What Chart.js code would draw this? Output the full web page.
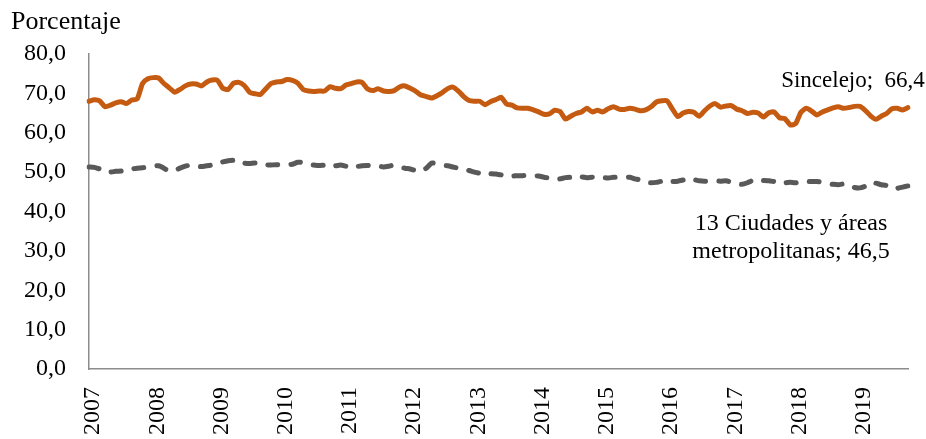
<!DOCTYPE html>
<html>
<head>
<meta charset="utf-8">
<script src="https://cdn.jsdelivr.net/npm/chart.js@4/dist/chart.umd.min.js"></script>
<style>
	html, body { margin: 0; padding: 0; background: #ffffff; }
	#wrap { width: 926px; height: 439px; position: relative; }
</style>
</head>
<body>
<div id="wrap"><canvas id="myChart" width="926" height="439"></canvas></div>
<script>

const years = ['2007', '2008', '2009', '2010', '2011', '2012', '2013', '2014', '2015', '2016', '2017', '2018', '2019'];
const months_per_year = 12;

const y_ticks = { min: 0, max: 80, step: 10 };

const series_names = ['Sincelejo', '13 Ciudades y áreas metropolitanas'];

// one value per month, ene 2007 - oct 2019
const sincelejo = [
	68.0, 68.4, 68.1, 66.6, 67.0, 67.6, 67.9, 67.4, 68.3, 68.6, 72.5, 73.7,
	74.0, 73.9, 72.5, 71.4, 70.3, 71.0, 71.9, 72.4, 72.4, 71.9, 72.9, 73.4,
	73.3, 71.3, 71.0, 72.6, 72.8, 72.0, 70.3, 69.9, 69.7, 71.1, 72.5, 72.9,
	73.0, 73.5, 73.3, 72.6, 71.0, 70.6, 70.5, 70.6, 70.6, 71.7, 71.3, 71.2,
	72.1, 72.5, 72.9, 72.8, 71.2, 70.7, 71.2, 70.6, 70.5, 70.7, 71.6, 71.9,
	71.3, 70.6, 69.6, 69.2, 68.8, 69.4, 70.2, 71.2, 71.6, 70.6, 69.2, 68.2,
	68.0, 68.0, 67.1, 67.9, 68.4, 69.0, 67.3, 67.0, 66.3, 66.2, 66.2, 65.8,
	65.3, 64.7, 64.8, 65.7, 65.4, 63.5, 64.2, 64.9, 65.3, 66.2, 65.3, 65.7,
	65.3, 66.1, 66.6, 66.0, 65.9, 66.2, 66.0, 65.6, 65.8, 66.6, 67.8, 68.1,
	68.1, 66.0, 64.1, 65.0, 65.4, 65.2, 64.2, 65.6, 66.8, 67.4, 66.5, 66.8,
	66.9, 66.0, 65.6, 64.9, 65.2, 65.0, 64.0, 65.1, 65.3, 63.8, 63.6, 62.0,
	62.3, 65.2, 66.2, 65.5, 64.5, 65.3, 65.8, 66.3, 66.6, 66.2, 66.4, 66.7,
	66.7, 65.7, 64.3, 63.4, 64.2, 64.9, 66.1, 66.2, 65.8, 66.4
];

const ciudades = [
	51.3, 51.2, 50.8, 50.3, 50.0, 50.2, 50.3, 50.5, 50.8, 51.0, 51.1, 51.3,
	51.5, 51.6, 51.0, 50.2, 50.4, 51.0, 51.5, 51.8, 51.5, 51.4, 51.6, 51.8,
	52.2, 52.6, 52.9, 53.0, 52.8, 52.3, 52.2, 52.3, 52.1, 51.8, 51.8, 51.9,
	51.7, 51.9, 52.0, 52.5, 52.4, 51.9, 51.8, 51.7, 51.8, 51.8, 51.6, 51.8,
	51.5, 51.2, 51.4, 51.6, 51.7, 51.5, 51.6, 51.3, 51.5, 51.8, 51.4, 51.0,
	50.8, 50.4, 50.2, 51.0, 52.3, 52.1, 51.8, 51.6, 51.3, 51.0, 50.7, 50.4,
	50.0, 49.7, 49.7, 49.6, 49.5, 49.3, 49.1, 49.0, 49.1, 49.1, 49.2, 49.0,
	49.0, 48.7, 48.5, 48.2, 48.3, 48.6, 48.7, 48.7, 48.8, 48.6, 48.7, 48.6,
	48.6, 48.5, 48.7, 48.7, 48.6, 48.7, 48.3, 48.0, 47.4, 47.3, 47.4, 47.7,
	47.7, 47.6, 47.7, 48.0, 48.3, 48.1, 47.8, 47.7, 47.8, 47.8, 47.7, 47.8,
	47.4, 47.1, 46.9, 47.3, 47.9, 48.0, 47.9, 47.8, 47.6, 47.4, 47.3, 47.4,
	47.3, 47.6, 47.7, 47.6, 47.6, 47.4, 47.1, 46.9, 46.8, 47.0, 46.6, 46.1,
	46.0, 46.4, 47.3, 47.2, 46.8, 46.6, 46.0, 45.9, 46.2, 46.5
];

const label_lines = [
	['Sincelejo;  66,4'],
	['13 Ciudades y áreas', 'metropolitanas; 46,5']
];

const axis_title = 'Porcentaje';

const serif = "'Liberation Serif', 'Times New Roman', serif";


function getLabels(count)
{
	const labels = [];

	for (let i = 0; i < count; i++)
	{
		const year = years[Math.floor(i / months_per_year)];
		labels.push(year + '-' + String(i % months_per_year + 1).padStart(2, '0'));
	}

	return labels;
}


function formatNumber(value)
{
	return Number(value).toFixed(1).replace('.', ',');
}


// texts that are not part of the scales: axis title and end labels
const textPlugin = {
	id: 'textPlugin',
	afterDraw(chart)
	{
		const ctx = chart.ctx;
		ctx.save();
		ctx.fillStyle = '#000000';

		ctx.font = '26px ' + serif;
		ctx.textAlign = 'left';
		ctx.textBaseline = 'middle';
		ctx.fillText(axis_title, 11, 22);

		ctx.textAlign = 'center';

		const styles = [
			{ dx: -55, dy: -27, size: 23 },
			{ dx: -117, dy: 38, size: 24 }
		];

		chart.data.datasets.forEach((dataset, index) => {
			const meta = chart.getDatasetMeta(index);
			const last = meta.data[meta.data.length - 1];
			const lines = label_lines[index];

			ctx.font = styles[index].size + 'px ' + serif;

			lines.forEach((line, n) => {
				ctx.fillText(line, last.x + styles[index].dx, last.y + styles[index].dy + n * 28);
			});
		});

		ctx.restore();
	}
};


window.onload = function()
{
	const labels = getLabels(sincelejo.length);
	const canvas = document.getElementById('myChart').getContext('2d');

	new Chart(canvas, {
		type: 'line',
		data: {
			labels: labels,
			datasets: [
				{
					label: series_names[0],
					data: sincelejo,
					borderColor: '#C55A11',
					backgroundColor: '#C55A11',
					borderWidth: 5,
					pointRadius: 0,
					tension: 0.2,
					borderJoinStyle: 'round',
					borderCapStyle: 'round'
				},
				{
					label: series_names[1],
					data: ciudades,
					borderColor: '#595959',
					backgroundColor: '#595959',
					borderWidth: 5,
					pointRadius: 0,
					tension: 0.2,
					borderDash: [10, 13],
					borderJoinStyle: 'round',
					borderCapStyle: 'round'
				}
			]
		},
		options: {
			responsive: false,
			animation: false,
			layout: { padding: { top: 54, right: 18, left: 0, bottom: 0 } },
			plugins: {
				legend: { display: false },
				tooltip: { enabled: false }
			},
			scales: {
				x: {
					type: 'category',
					offset: false,
					grid: { display: false, drawTicks: false },
					border: { display: true, color: '#8c8c8c', width: 1.5 },
					afterFit(scale) {
						scale.height = 70;
						scale.paddingLeft = 0;
						scale.paddingRight = 0;
					},
					ticks: {
						autoSkip: false,
						maxRotation: 90,
						minRotation: 90,
						padding: 18,
						labelOffset: 4,
						color: '#000000',
						font: { family: serif, size: 24 },
						callback(value, index) {
							return index % months_per_year === 0 ? years[index / months_per_year] : '';
						}
					}
				},
				y: {
					min: y_ticks.min,
					max: y_ticks.max,
					grid: { display: false, drawTicks: false },
					border: { display: true, color: '#8c8c8c', width: 1.5 },
					afterFit(scale) { scale.width = 89; },
					ticks: {
						stepSize: y_ticks.step,
						padding: 23,
						color: '#000000',
						font: { family: serif, size: 24 },
						callback: (value) => formatNumber(value)
					}
				}
			}
		},
		plugins: [textPlugin]
	});
}

</script>
</body>
</html>
